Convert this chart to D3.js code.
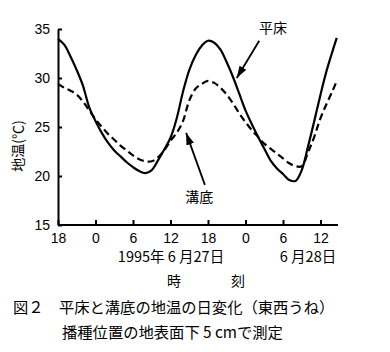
<!DOCTYPE html>
<html>
<head>
<meta charset="utf-8">
<script src="https://cdn.jsdelivr.net/npm/d3@7"></script>
<style>
  body { margin: 0; background: #fff; }
  svg text { font-family: "Liberation Sans", Arial, "Noto Sans CJK JP", sans-serif; fill: #000; }
  .jp { font-family: "Noto Sans CJK JP", "Liberation Sans", sans-serif; }
</style>
</head>
<body>
<svg id="chart" width="390" height="352"></svg>
<script>
// hours counted from 6/26 18:00
var hours = [0,1,2,3,4,5,6,7,8,9,10,11,12,13,14,15,16,17,18,19,20,21,22,23,24,25,26,27,28,29,30,31,32,33,34,35,36,37,38,39,40,41,42,43,44,44.6];
var hiraToko = [34.0,33.4,32.2,30.8,29.2,27.0,25.6,24.4,23.4,22.6,22.0,21.4,20.9,20.5,20.3,20.6,21.6,22.7,23.9,25.9,28.6,30.8,32.3,33.3,33.8,33.6,32.9,31.6,30.1,28.4,26.7,25.3,24.0,22.8,21.6,20.8,20.2,19.6,19.5,20.6,23.0,25.6,28.3,30.8,32.9,34.1];
var mizoZoko = [29.4,29.0,28.7,28.3,27.6,26.7,25.8,25.0,24.3,23.7,23.1,22.6,22.1,21.7,21.5,21.5,21.9,22.6,23.6,24.4,25.6,27.7,28.9,29.4,29.7,29.5,29.0,28.3,27.4,26.4,25.5,24.7,24.0,23.3,22.8,22.3,21.8,21.3,21.0,21.0,22.4,24.0,25.9,27.4,28.8,29.7];
var xTicks = [0,6,12,18,24,30,36,42];
var xTickLabels = ["18","0","6","12","18","0","6","12"];
var yTicks = [15,20,25,30,35];

var svg = d3.select("#chart");

var x = d3.scaleLinear().domain([0, 44.8]).range([58, 338]);
var y = d3.scaleLinear().domain([15, 35]).range([225, 29]);

// axes
var xAxis = svg.append("g")
  .attr("transform", "translate(0," + y(15) + ")")
  .call(d3.axisBottom(x).tickValues(xTicks)
    .tickFormat(function(d, i) { return xTickLabels[i]; })
    .tickSizeInner(-5).tickSizeOuter(0).tickPadding(8));

var yAxis = svg.append("g")
  .attr("transform", "translate(" + x(0) + ",0)")
  .call(d3.axisLeft(y).tickValues(yTicks)
    .tickSizeInner(-4).tickSizeOuter(0).tickPadding(8));

svg.selectAll(".domain, .tick line").attr("stroke", "#000").attr("stroke-width", 2);
svg.selectAll(".tick text").attr("font-size", 14).style("font-family", "'Liberation Sans', Arial, sans-serif");
xAxis.selectAll(".domain").attr("d", "M" + x(0) + ",0H" + x(44.8));

// lines
var line = d3.line()
  .x(function(d, i) { return x(hours[i]); })
  .y(function(d) { return y(d); })
  .curve(d3.curveCatmullRom.alpha(0.5));

svg.append("path").datum(mizoZoko)
  .attr("d", line).attr("fill", "none")
  .attr("stroke", "#000").attr("stroke-width", 2.2)
  .attr("stroke-dasharray", "7,4");

svg.append("path").datum(hiraToko)
  .attr("d", line).attr("fill", "none")
  .attr("stroke", "#000").attr("stroke-width", 2.2);

// arrows
svg.append("defs").append("marker")
  .attr("id", "arr").attr("viewBox", "0 0 12 8")
  .attr("refX", 12).attr("refY", 4)
  .attr("markerWidth", 12).attr("markerHeight", 8)
  .attr("markerUnits", "userSpaceOnUse").attr("orient", "auto")
  .append("path").attr("d", "M0,0L12,4L0,8Z").attr("fill", "#000");

svg.append("line")
  .attr("x1", x(32.2)).attr("y1", y(33.8))
  .attr("x2", x(28.6)).attr("y2", y(30.0))
  .attr("stroke", "#000").attr("stroke-width", 1.8)
  .attr("marker-end", "url(#arr)");
svg.append("text").attr("class", "jp")
  .attr("x", x(34.4)).attr("y", y(35.1) + 5)
  .attr("text-anchor", "middle").attr("font-size", 14)
  .text("平床");

svg.append("line")
  .attr("x1", x(23.5)).attr("y1", y(19.1))
  .attr("x2", x(20.5)).attr("y2", y(24.4))
  .attr("stroke", "#000").attr("stroke-width", 1.8)
  .attr("marker-end", "url(#arr)");
svg.append("text").attr("class", "jp")
  .attr("x", x(22.6)).attr("y", y(17.9) + 5)
  .attr("text-anchor", "middle").attr("font-size", 14)
  .text("溝底");

// date labels
svg.append("text").attr("class", "jp")
  .attr("x", 171).attr("y", 262)
  .attr("text-anchor", "middle").attr("font-size", 14.5)
  .text("1995年 6 月27日");
svg.append("text").attr("class", "jp")
  .attr("x", 308).attr("y", 262)
  .attr("text-anchor", "middle").attr("font-size", 14.5)
  .text("6 月28日");
svg.append("text").attr("class", "jp")
  .attr("x", 174).attr("y", 286)
  .attr("text-anchor", "middle").attr("font-size", 14)
  .text("時");
svg.append("text").attr("class", "jp")
  .attr("x", 238).attr("y", 286)
  .attr("text-anchor", "middle").attr("font-size", 14)
  .text("刻");

// y label
svg.append("text").attr("class", "jp")
  .attr("transform", "translate(23,146) rotate(-90)")
  .attr("text-anchor", "middle").attr("font-size", 14)
  .text("地温(℃)");

// caption
svg.append("text").attr("class", "jp")
  .attr("x", 13).attr("y", 313).attr("font-size", 15.3)
  .text("図２　平床と溝底の地温の日変化（東西うね）");
svg.append("text").attr("class", "jp")
  .attr("x", 62).attr("y", 338).attr("font-size", 15.3)
  .text("播種位置の地表面下 5 cmで測定");
</script>
</body>
</html>
